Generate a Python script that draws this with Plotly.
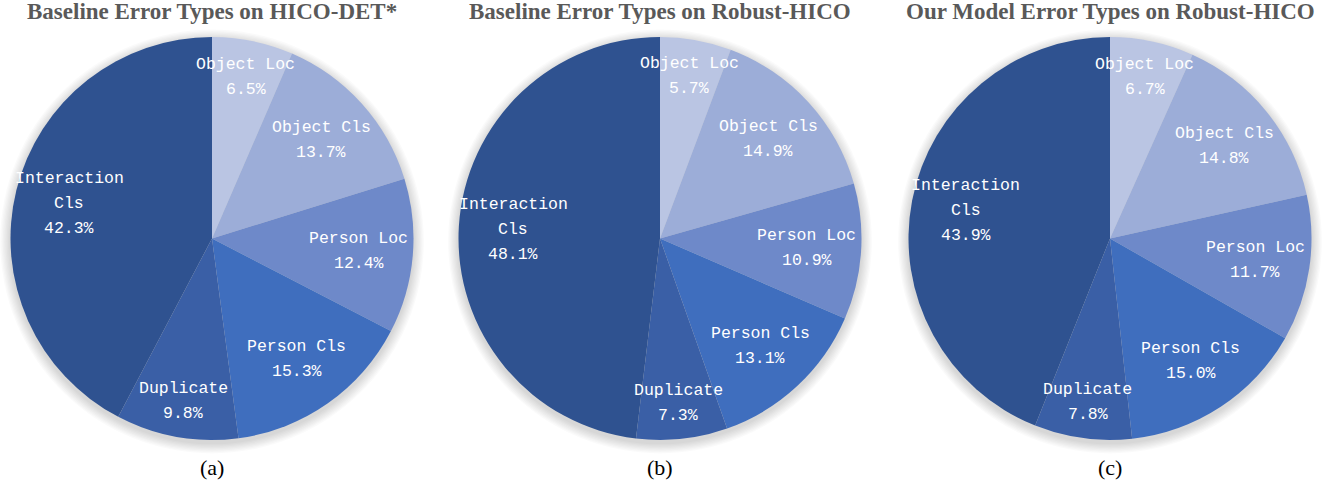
import math
import plotly.graph_objects as go

# slice labels (clockwise from 12 o'clock)
labels = ["Object Loc", "Object Cls", "Person Loc", "Person Cls", "Duplicate", "Interaction Cls"]
label_lines = [["Object Loc"], ["Object Cls"], ["Person Loc"], ["Person Cls"], ["Duplicate"], ["Interaction", "Cls"]]
colors = ["#BAC5E3", "#9CADD8", "#6E89C9", "#3F6EBE", "#3A5FA6", "#2F5290"]

baseline_hico_det = [6.5, 13.7, 12.4, 15.3, 9.8, 42.3]
baseline_robust = [5.7, 14.9, 10.9, 13.1, 7.3, 48.1]
ours_robust = [6.7, 14.8, 11.7, 15.0, 7.8, 43.9]

titles = ["Baseline Error Types on HICO-DET*",
          "Baseline Error Types on Robust-HICO",
          "Our Model Error Types on Robust-HICO"]
captions = ["(a)", "(b)", "(c)"]

W, H = 1328, 482
centers_x = [212, 660, 1110]   # pixel centres of the pies
center_y = 243.5               # from bottom
R = 201.5
pitch = 25                     # label line spacing, px

fig = go.Figure()

for i, vals in enumerate([baseline_hico_det, baseline_robust, ours_robust]):
    cx = centers_x[i]
    fig.add_trace(go.Pie(
        values=vals,
        labels=labels,
        sort=False,
        direction="clockwise",
        rotation=0,
        marker=dict(colors=colors, line=dict(width=0)),
        textinfo="none",
        hoverinfo="label+value",
        showlegend=False,
        domain=dict(x=[(cx - R) / W, (cx + R) / W],
                    y=[(center_y - R) / H, (center_y + R) / H]),
    ))

    # soft shadow around pie
    for k in range(1, 9):
        rr = R + k * 1.3
        fig.add_shape(
            type="circle", xref="paper", yref="paper", layer="below",
            x0=(cx - rr) / W, x1=(cx + rr) / W,
            y0=(center_y - 3 - rr) / H, y1=(center_y - 3 + rr) / H,
            fillcolor="rgba(0,0,0,0.02)", line=dict(width=0),
        )

    # slice labels
    total = sum(vals)
    cum = 0
    for lines, v in zip(label_lines, vals):
        theta = 2 * math.pi * (cum + v / 2) / total
        cum += v
        rf = 0.82 if v / total < 0.1 else 0.73
        px = cx + rf * R * math.sin(theta)
        py = center_y + rf * R * math.cos(theta)
        rows = lines + [f"{v:.1f}%"]
        n = len(rows)
        for j, row in enumerate(rows):
            yy = py + ((n - 1) / 2 - j) * pitch
            fig.add_annotation(
                x=px / W, y=yy / H, xref="paper", yref="paper",
                text=row, showarrow=False,
                xanchor="center", yanchor="middle",
                font=dict(family="Liberation Mono", size=16.5, color="white"),
            )

    fig.add_annotation(
        x=cx / W, y=(H - 11) / H, xref="paper", yref="paper",
        text=f"<b>{titles[i]}</b>", showarrow=False,
        font=dict(family="Liberation Serif", size=23, color="#595959"),
        xanchor="center", yanchor="middle",
    )
    fig.add_annotation(
        x=cx / W, y=(H - 467) / H, xref="paper", yref="paper",
        text=captions[i], showarrow=False,
        font=dict(family="Liberation Serif", size=22, color="black"),
        xanchor="center", yanchor="middle",
    )

fig.update_layout(
    width=W, height=H,
    margin=dict(l=0, r=0, t=0, b=0),
    paper_bgcolor="white", plot_bgcolor="white",
)

fig.write_html("out.html", config={"displayModeBar": False},
               post_script="document.body.style.margin='0';")
